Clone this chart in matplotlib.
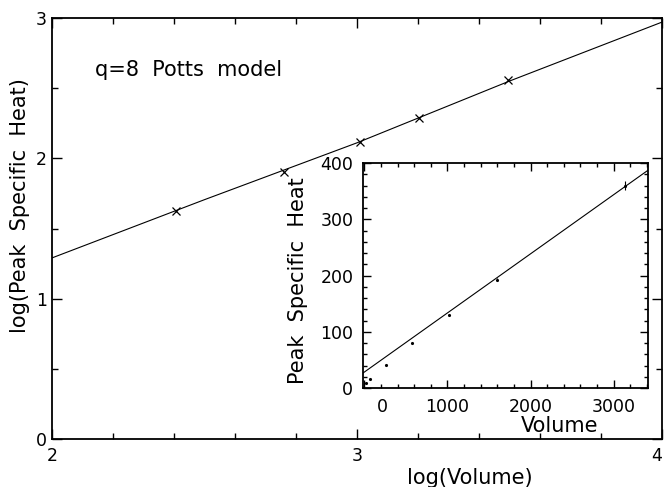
import matplotlib
matplotlib.use("Agg")
import matplotlib.pyplot as plt
import matplotlib.transforms as mtransforms
from matplotlib.ticker import MultipleLocator
import numpy as np

# ---- data ----
volume = [16, 64, 256, 576, 1024, 1600, 3136]
peak_c = [9, 16, 42, 80, 130, 193, 360]
peak_c_err = [1, 1, 1, 2, 2, 3, 8]

# fitted curve in main panel (log10 V, log10 C)
fit_logv = [2.0, 2.5, 3.0, 3.5, 4.0]
fit_logc = [1.29, 1.705, 2.11, 2.55, 2.97]

# fitted line in inset (V, C)
fit_v = [-15, 3410]
fit_c = [27, 387]

main_xticks = [2, 3, 4]
main_yticks = [0, 1, 2, 3]
inset_xticks = [0, 1000, 2000, 3000]
inset_yticks = [0, 100, 200, 300, 400]

plt.rcParams['font.family'] = ['DejaVu Sans']

fig = plt.figure(figsize=(6.65, 4.87), dpi=100)
ax = fig.add_axes([0.078, 0.0986, 0.917, 0.8644])

lv = np.log10(volume)
lc = np.log10(peak_c)
mask = lv >= 2
ax.plot(fit_logv, fit_logc, color='black', lw=0.8)
ax.plot(lv[mask], lc[mask], linestyle='none', marker='x', color='black',
        ms=5.5, mew=0.9)

ax.set_xlim(2, 4)
ax.set_ylim(0, 3)
ax.set_xticks(main_xticks)
ax.set_yticks(main_yticks)
ax.xaxis.set_minor_locator(MultipleLocator(0.2))
ax.yaxis.set_minor_locator(MultipleLocator(0.5))
ax.tick_params(which='both', direction='in', top=True, right=True,
               labelsize=12.5, width=1.0)
ax.tick_params(which='major', length=7)
ax.tick_params(which='minor', length=4)
ax.tick_params(axis='x', which='major', pad=6)
for s in ax.spines.values():
    s.set_linewidth(1.3)
# the "4" label sits at the right edge; nudge it slightly left
lbl4 = ax.get_xticklabels()[-1]
lbl4.set_transform(lbl4.get_transform() +
                   mtransforms.ScaledTranslation(-5 / 100, 0, fig.dpi_scale_trans))

ax.set_xlabel('log(Volume)', fontsize=15)
ax.xaxis.set_label_coords(0.685, -0.068)
ax.set_ylabel('log(Peak  Specific  Heat)', fontsize=15)
ax.yaxis.set_label_coords(-0.036, 0.555)
ax.text(2.14, 2.63, 'q=8  Potts  model', fontsize=15, va='center', ha='left')

# inset
axi = fig.add_axes([0.546, 0.203, 0.428, 0.462])
axi.plot(fit_v, fit_c, color='black', lw=0.8)
axi.errorbar(volume, peak_c, yerr=peak_c_err, fmt='.', color='black',
             ms=2.5, elinewidth=0.8, capsize=0)
axi.set_xlim(-15, 3410)
axi.set_ylim(0, 400)
axi.set_xticks(inset_xticks)
axi.set_yticks(inset_yticks)
axi.xaxis.set_minor_locator(MultipleLocator(200))
axi.yaxis.set_minor_locator(MultipleLocator(20))
axi.tick_params(which='both', direction='in', top=True, right=True,
                labelsize=12.5, width=1.0)
axi.tick_params(which='major', length=6)
axi.tick_params(which='minor', length=3)
axi.tick_params(axis='x', which='major', pad=7)
axi.tick_params(axis='y', which='major', pad=7)
for s in axi.spines.values():
    s.set_linewidth(1.3)
# the "0" label on the inset x axis is shifted right in the original
lbl0 = axi.get_xticklabels()[0]
lbl0.set_transform(lbl0.get_transform() +
                   mtransforms.ScaledTranslation(18 / 100, 0, fig.dpi_scale_trans))
axi.set_xlabel('Volume', fontsize=15)
axi.xaxis.set_label_coords(0.69, -0.125)
axi.set_ylabel('Peak  Specific  Heat', fontsize=15)
axi.yaxis.set_label_coords(-0.193, 0.48)

fig.savefig('out.png', dpi=100)
